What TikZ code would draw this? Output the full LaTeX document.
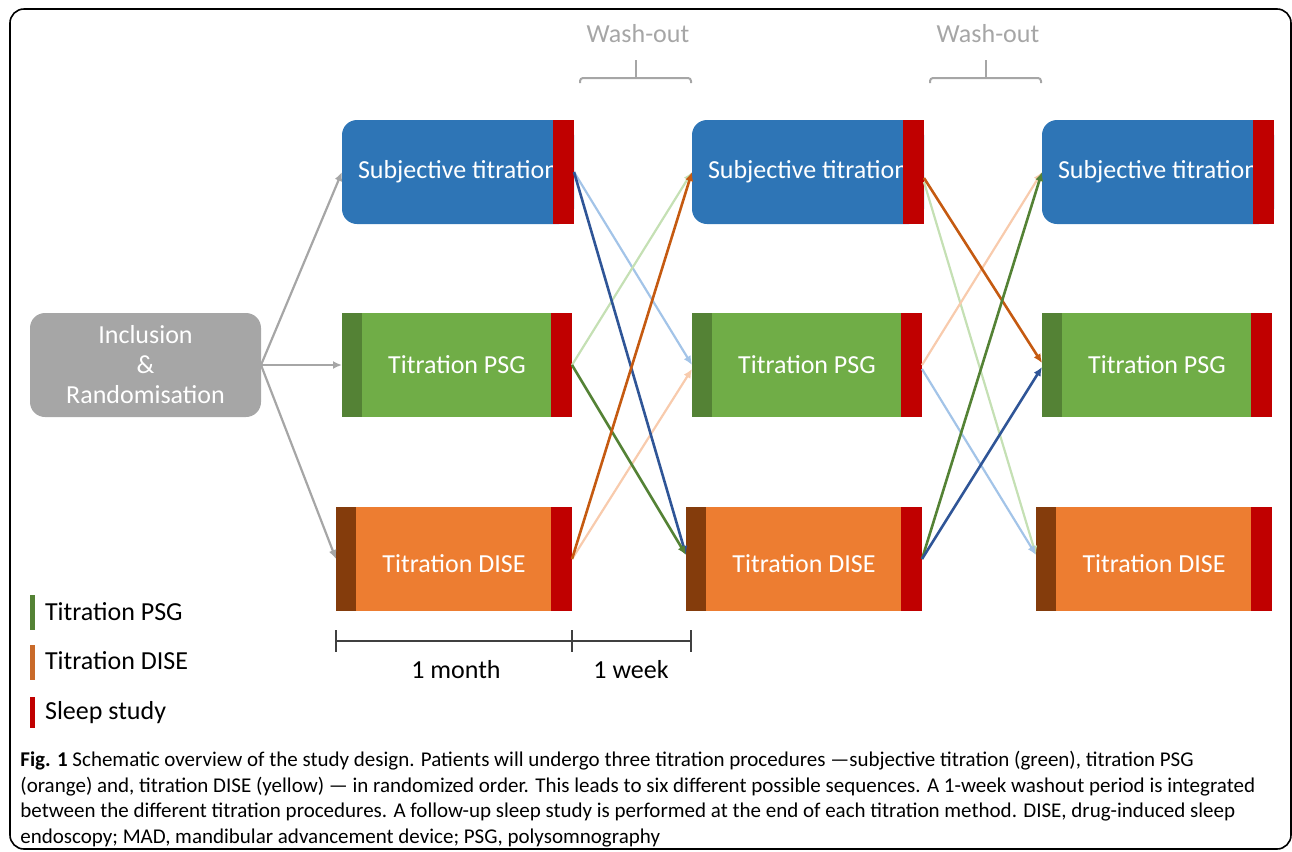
\documentclass[tikz,border=0pt]{standalone}
\usepackage{fontspec}
\setmainfont{Carlito}
\usetikzlibrary{arrows.meta,positioning}

\definecolor{subjblue}{RGB}{46,117,182}
\definecolor{sleepred}{RGB}{192,0,0}
\definecolor{psggreen}{RGB}{112,173,71}
\definecolor{psgdark}{RGB}{84,130,53}
\definecolor{diseorange}{RGB}{237,125,49}
\definecolor{disebrown}{RGB}{132,60,12}
\definecolor{inclgray}{RGB}{166,166,166}
\definecolor{lightblue}{RGB}{163,196,232}
\definecolor{darkblue}{RGB}{47,85,151}
\definecolor{lightgreen}{RGB}{197,224,180}
\definecolor{darkorange}{RGB}{197,90,17}
\definecolor{lightorange}{RGB}{248,203,173}

\tikzset{
  boxtext/.style={font=\fontsize{13}{15}\selectfont},
  titrbox/.style={boxtext, text=white, minimum height=52pt, inner sep=0pt,
    outer sep=0pt, anchor=north west},
  strip/.style={minimum height=52pt, inner sep=0pt, outer sep=0pt},
  sleepstrip/.style={strip, fill=sleepred, minimum width=10.5pt, anchor=north east},
  titrstrip/.style={strip, minimum width=10pt, anchor=north west},
  flow/.style={-{Latex[length=4.5pt,width=4pt]}, line width=1.3pt},
  faint/.style={flow, line width=1.1pt},
  bracket/.style={draw=inclgray, line width=1pt, rounded corners=1.5pt}
}

\begin{document}
\begin{tikzpicture}[x=0.5pt, y=-0.5pt]
  \useasboundingbox (0,0) rectangle (1292,852);

  % Cadre
  \draw[line width=0.8pt, rounded corners=7pt] (10,9) rectangle (1291,849);

  % Inclusion
  \node[titrbox, fill=inclgray, minimum width=115.5pt, rounded corners=7.5pt,
        align=center] (incl) at (30,313) {Inclusion\\\&\\Randomisation};

  % Colonnes de titration
  \foreach \i/\dx in {1/0, 2/350, 3/700} {
    \node[titrbox, fill=subjblue, minimum width=116pt, rounded corners=7.5pt]
      (subj\i) at (342+\dx,120) {Subjective titration};
    \node[sleepstrip] (ss-subj\i) at (subj\i.north east) {};

    \node[titrbox, fill=psggreen, minimum width=115pt]
      (psg\i) at (342+\dx,313) {Titration PSG};
    \node[titrstrip, fill=psgdark] (ts-psg\i) at (psg\i.north west) {};
    \node[sleepstrip] (ss-psg\i) at (psg\i.north east) {};

    \node[titrbox, fill=diseorange, minimum width=118pt, text height=14pt]
      (dise\i) at (336+\dx,507) {Titration DISE};
    \node[titrstrip, fill=disebrown] (ts-dise\i) at (dise\i.north west) {};
    \node[sleepstrip] (ss-dise\i) at (dise\i.north east) {};
  }

  % Randomisation
  \draw[faint, draw=inclgray] (incl.east) -- (subj1.west);
  \draw[faint, draw=inclgray] (incl.east) -- (psg1.west);
  \draw[faint, draw=inclgray] (incl.east) -- (dise1.west);

  % Premier passage
  \draw[faint, draw=lightblue] (ss-subj1.east) -- (psg2.west);
  \draw[faint, draw=lightgreen] (ss-psg1.east) -- (subj2.west);
  \draw[faint, draw=lightorange] (ss-dise1.east) -- ([yshift=-2pt]psg2.west);
  \draw[flow, draw=darkblue] (ss-subj1.east) -- ([yshift=2pt]dise2.west);
  \draw[flow, draw=psgdark] (ss-psg1.east) -- ([yshift=2pt]dise2.west);
  \draw[flow, draw=darkorange] (ss-dise1.east) -- (subj2.west);

  % Second passage
  \draw[faint, draw=lightgreen] ([yshift=-5pt]ss-subj2.east) -- ([yshift=2pt]dise3.west);
  \draw[faint, draw=lightorange] (ss-psg2.east) -- (subj3.west);
  \draw[faint, draw=lightblue] ([yshift=-2pt]ss-psg2.east) -- ([yshift=2pt]dise3.west);
  \draw[flow, draw=darkorange] ([yshift=-3pt]ss-subj2.east) -- ([yshift=1pt]psg3.west);
  \draw[flow, draw=psgdark] (ss-dise2.east) -- (subj3.west);
  \draw[flow, draw=darkblue] (ss-dise2.east) -- ([yshift=-1pt]psg3.west);

  % Wash-out
  \node[boxtext, text=inclgray] (wash1) at (638,34) {Wash-out};
  \node[boxtext, text=inclgray] (wash2) at (988,34) {Wash-out};
  \draw[bracket] (580,83) -- (580,78) -- (691,78) -- (691,83);
  \draw[bracket] (636,78) -- (636,60);
  \draw[bracket] (930,83) -- (930,78) -- (1041,78) -- (1041,83);
  \draw[bracket] (986,78) -- (986,60);

  % Echelle de temps
  \draw[black!75, line width=0.6pt] (336,641) -- (691,641);
  \foreach \t in {336, 572, 691}
    \draw[black!75, line width=0.6pt] (\t,630) -- (\t,652);
  \node[boxtext] (month) at (456,670) {1 month};
  \node[boxtext] (week) at (631,670) {1 week};

  % Legende
  \fill[psgdark] (30,595) rectangle (35,630);
  \fill[diseorange!85!black] (30,645) rectangle (35,680);
  \fill[sleepred] (30,697) rectangle (35,728);
  \node[boxtext, anchor=west] (legpsg) at (38,612) {Titration PSG};
  \node[boxtext, anchor=west] (legdise) at (38,661) {Titration DISE};
  \node[boxtext, anchor=west] (legsleep) at (38,713) {Sleep study};

  % Legende de la figure
  \node[anchor=north west, align=left, inner sep=0pt,
        font=\fontsize{10.5}{12.8}\selectfont] (caption) at (20,751)
    {\textbf{Fig. 1} Schematic overview of the study design. Patients will undergo three titration procedures ---subjective titration (green), titration PSG\\
     (orange) and, titration DISE (yellow) --- in randomized order. This leads to six different possible sequences. A 1-week washout period is integrated\\
     between the different titration procedures. A follow-up sleep study is performed at the end of each titration method. DISE, drug-induced sleep\\
     endoscopy; MAD, mandibular advancement device; PSG, polysomnography};
\end{tikzpicture}
\end{document}
